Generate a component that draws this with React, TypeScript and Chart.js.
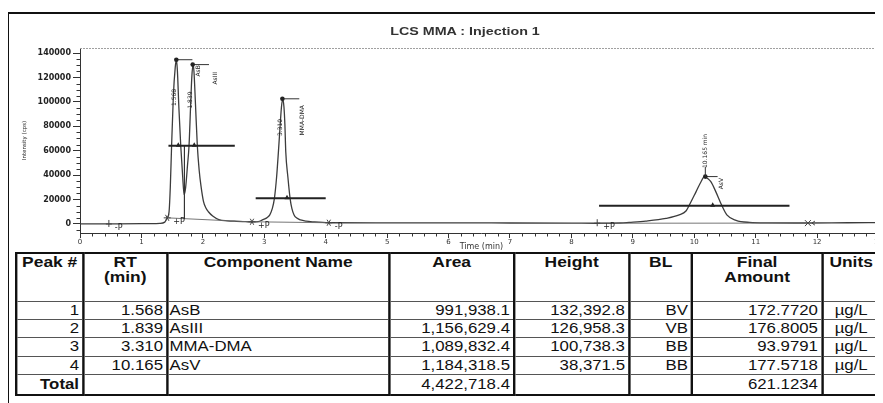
import { useEffect, useRef } from 'react';
import { Chart, registerables } from 'chart.js';

Chart.register(...registerables);

// ---- chromatogram trace ----
const timeMin = [0, 0.47, 1.0, 1.30, 1.38, 1.42, 1.45, 1.47, 1.49, 1.52, 1.55, 1.568, 1.585, 1.61, 1.64, 1.67, 1.695, 1.72, 1.75, 1.775, 1.80, 1.82, 1.839, 1.855, 1.88, 1.91, 1.94, 1.97, 2.01, 2.05, 2.09, 2.16, 2.26, 2.40, 2.55, 2.70, 2.80, 2.90, 2.97, 3.04, 3.09, 3.13, 3.165, 3.20, 3.23, 3.26, 3.28, 3.30, 3.32, 3.335, 3.35, 3.385, 3.42, 3.45, 3.485, 3.53, 3.59, 3.68, 3.80, 4.05, 5.0, 6.0, 7.0, 8.0, 8.42, 8.8, 8.94, 9.21, 9.54, 9.755, 9.865, 9.92, 10.03, 10.11, 10.165, 10.21, 10.27, 10.35, 10.445, 10.53, 10.68, 10.9, 11.2, 11.85, 12.5, 13.07];
const intensity = [0, 100, 200, 500, 1500, 5000, 10000, 30000, 62000, 105000, 128000, 134500, 126000, 95000, 64000, 40000, 24000, 30000, 48000, 64000, 96000, 120000, 130500, 125000, 98000, 64000, 44000, 31000, 18500, 13000, 10000, 6500, 3600, 2600, 2200, 1900, 1700, 1900, 3300, 5000, 7500, 12500, 21000, 38000, 59000, 82000, 96000, 102500, 96000, 82000, 59000, 38000, 21000, 12500, 7400, 4800, 3300, 2300, 1700, 1000, 900, 900, 800, 700, 600, 800, 1300, 2400, 4600, 7400, 10600, 15500, 26500, 34600, 38800, 37500, 34600, 26500, 15500, 7400, 3000, 1300, 900, 800, 1000, 1100];

// ---- axes ----
const xTickValues = Array.from({ length: 66 }, (_, i) => i / 5); // 0 … 13 min every 0.2
const yTickValues = Array.from({ length: 30 }, (_, i) => -5000 + i * 5000); // -5000 … 140000 every 5000
const xMajorStep = 1;
const yMajorStep = 20000;

// ---- peak table ----
const peakNumbers = [1, 2, 3, 4];
const peakRT = [1.568, 1.839, 3.310, 10.165];
const peakNames = ['AsB', 'AsIII', 'MMA-DMA', 'AsV'];
const peakArea = [991938.1, 1156629.4, 1089832.4, 1184318.5];
const peakHeight = [132392.8, 126958.3, 100738.3, 38371.5];
const peakBL = ['BV', 'VB', 'BB', 'BB'];
const finalAmount = [172.7720, 176.8005, 93.9791, 177.5718];
const unitLabel = 'µg/L';
const tableHeaders = ['Peak #', 'RT\n(min)', 'Component Name', 'Area', 'Height', 'BL', 'Final\nAmount', 'Units'];

// ---- peak annotations (data units) ----
const apexTime = [1.568, 1.835, 3.295, 10.18];
const apexHeight = [134500, 130500, 102500, 38800];
const leaderEnd = [1.83, 2.10, 3.57, 10.38];
const nameTime = [1.92, 2.21, 3.615, 10.435];
const nameTop = [130000, 124400, 97400, 37700];
const rtLabelTime = [1.53, 1.80, 3.27, 10.18];
const rtLabelMid = [103600, 101500, 79000, 59800];
const rtTickTop = 46700;
const halfLevel = [64000, 21000, 15000];
const halfStart = [1.44, 2.86, 8.45];
const halfEnd = [2.52, 4.0, 11.55];
const halfMarks = [[1.60, 1.86], [3.37], [10.30]];
const baseStartT = [1.42, 2.80, 8.42];
const baseStartV = [5000, 1800, 600];
const baseEndT = [2.80, 4.05, 11.85];
const baseEndV = [1700, 1000, 700];
const dropTime = [1.70];
const markTime = [0.47, 1.42, 2.80, 4.05, 8.42, 11.85];
const markValue = [0, 5000, 1800, 1000, 600, 700];
const markLabel = ['-P', '+P', '+P', '-P', '+P', ''];
const markShape = ['plus', 'star', 'star', 'star', 'plus', 'cross'];

const isMult = (v: number, step: number) => Math.abs(v / step - Math.round(v / step)) < 1e-6;

const annotate = {
  id: 'annotate',
  afterDatasetsDraw(chart: any) {
    const { ctx, chartArea: a, scales } = chart;
    const xs = scales.x, ys = scales.y;
    const X = (t: number) => xs.getPixelForValue(t);
    const Y = (v: number) => ys.getPixelForValue(v);
    const line = (x1: number, y1: number, x2: number, y2: number) => {
      ctx.beginPath(); ctx.moveTo(x1, y1); ctx.lineTo(x2, y2); ctx.stroke();
    };
    ctx.save();
    // top frame line (dashed grey)
    ctx.strokeStyle = '#a0a0a0'; ctx.lineWidth = 1; ctx.setLineDash([2, 1]);
    line(a.left, a.top + 0.5, chart.width, a.top + 0.5);
    ctx.setLineDash([]);
    // minor ticks
    ctx.strokeStyle = '#333'; ctx.lineWidth = 1;
    ys.ticks.forEach((t: any) => {
      if (!isMult(t.value, yMajorStep)) { const py = Math.round(Y(t.value)) + 0.5; line(a.left - 3.5, py, a.left, py); }
    });
    xs.ticks.forEach((t: any) => {
      if (!isMult(t.value, xMajorStep)) { const px = Math.round(X(t.value)) + 0.5; line(px, a.bottom, px, a.bottom + 3.5); }
    });
    // baselines of integration
    ctx.strokeStyle = '#666'; ctx.lineWidth = 0.9;
    baseStartT.forEach((t, i) => line(X(t), Y(baseStartV[i]), X(baseEndT[i]), Y(baseEndV[i])));
    // drop line in valley
    ctx.strokeStyle = '#333'; ctx.lineWidth = 1.2;
    dropTime.forEach((t) => line(X(t), Y(halfLevel[0]), X(t), Y(4000)));
    // half-height lines with triangles
    ctx.strokeStyle = '#222'; ctx.lineWidth = 2; ctx.fillStyle = '#222';
    halfLevel.forEach((v, i) => {
      const py = Y(v);
      line(X(halfStart[i]), py, X(halfEnd[i]), py);
      halfMarks[i].forEach((t) => {
        const px = X(t);
        ctx.beginPath(); ctx.moveTo(px, py - 3.5); ctx.lineTo(px - 2.5, py + 1); ctx.lineTo(px + 2.5, py + 1); ctx.closePath(); ctx.fill();
      });
    });
    // apex markers + leader lines
    ctx.lineWidth = 1; ctx.strokeStyle = '#333';
    apexTime.forEach((t, i) => {
      const px = X(t), py = Y(apexHeight[i]);
      line(px, py, X(leaderEnd[i]), py);
      ctx.beginPath(); ctx.arc(px, py, 2.3, 0, Math.PI * 2); ctx.fill();
    });
    // tick to peak-4 RT label
    line(X(apexTime[3]), Y(apexHeight[3]), X(apexTime[3]), Y(rtTickTop));
    // rotated texts
    ctx.fillStyle = '#222';
    ctx.font = '6px "DejaVu Sans"';
    peakNames.forEach((name, i) => {
      ctx.save(); ctx.translate(X(nameTime[i]), Y(nameTop[i])); ctx.rotate(-Math.PI / 2);
      ctx.textAlign = 'right'; ctx.textBaseline = 'middle'; ctx.fillText(name, 0, 0); ctx.restore();
    });
    peakRT.forEach((rt, i) => {
      const txt = i === 3 ? `${rt.toFixed(3)} min` : rt.toFixed(3);
      ctx.save(); ctx.translate(X(rtLabelTime[i]), Y(rtLabelMid[i])); ctx.rotate(-Math.PI / 2);
      ctx.textAlign = 'center'; ctx.textBaseline = 'middle'; ctx.fillText(txt, 0, 0); ctx.restore();
    });
    // integration markers
    ctx.strokeStyle = '#444'; ctx.lineWidth = 1;
    ctx.font = '8px "DejaVu Sans"'; ctx.textAlign = 'left'; ctx.textBaseline = 'middle';
    markTime.forEach((t, i) => {
      const px = X(t), py = Y(markValue[i]);
      const s = markShape[i];
      if (s === 'plus') { line(px - 3, py, px + 3, py); line(px, py - 4, px, py + 3); }
      if (s === 'star') {
        for (let k = 0; k < 3; k++) { const ang = (k * Math.PI) / 3; line(px - 3.5 * Math.cos(ang), py - 3.5 * Math.sin(ang), px + 3.5 * Math.cos(ang), py + 3.5 * Math.sin(ang)); }
      }
      if (s === 'cross') { line(px - 3, py - 3, px + 3, py + 3); line(px - 3, py + 3, px + 3, py - 3); line(px + 7, py - 2, px + 4, py); line(px + 4, py, px + 7, py + 2); }
      if (markLabel[i]) ctx.fillText(markLabel[i], px + 6, py + 4);
    });
    ctx.restore();
  },
};

function ChromChart() {
  const ref = useRef<HTMLCanvasElement>(null);
  useEffect(() => {
    if (!ref.current) return;
    const chart = new Chart(ref.current, {
      type: 'line',
      data: {
        datasets: [{
          data: timeMin.map((t, i) => ({ x: t, y: intensity[i] })),
          borderColor: '#3c3c3c',
          borderWidth: 1.3,
          pointRadius: 0,
          cubicInterpolationMode: 'monotone',
          fill: false,
        }],
      },
      options: {
        animation: false,
        responsive: false,
        maintainAspectRatio: false,
        layout: { padding: { top: 34, left: 0, right: 0, bottom: 0 } },
        plugins: { legend: { display: false }, tooltip: { enabled: false }, title: { display: false } },
        scales: {
          x: {
            type: 'linear', min: 0, max: 13.07,
            afterBuildTicks: (s: any) => { s.ticks = xTickValues.map((v) => ({ value: v })); },
            afterFit: (s: any) => { s.height = 19; },
            ticks: {
              autoSkip: false, maxRotation: 0, minRotation: 0, padding: 0,
              font: { family: 'DejaVu Sans', size: 7 }, color: '#333',
              callback: (v: any) => (isMult(Number(v), xMajorStep) ? String(Math.round(Number(v))) : ''),
            },
            grid: {
              drawOnChartArea: false, drawTicks: true, tickLength: 5,
              tickColor: (c: any) => (c.tick && isMult(c.tick.value, xMajorStep) ? '#333' : 'rgba(0,0,0,0)'),
            },
            border: { color: '#333', width: 1 },
            title: { display: true, text: 'Time (min)', font: { family: 'DejaVu Sans', size: 8 }, color: '#333', padding: { top: 0, bottom: 0 } },
          },
          y: {
            type: 'linear', min: -7400, max: 144100,
            afterBuildTicks: (s: any) => { s.ticks = yTickValues.map((v) => ({ value: v })); },
            afterFit: (s: any) => { s.width = 72; },
            ticks: {
              autoSkip: false, padding: 2,
              font: { family: 'DejaVu Sans', size: 8, weight: 'bold' }, color: '#222',
              callback: (v: any) => (isMult(Number(v), yMajorStep) ? String(Number(v)) : ''),
            },
            grid: {
              drawOnChartArea: false, drawTicks: true, tickLength: 7,
              tickColor: (c: any) => (c.tick && isMult(c.tick.value, yMajorStep) ? '#333' : 'rgba(0,0,0,0)'),
            },
            border: { color: '#333', width: 1 },
            title: { display: true, text: 'Intensity (cps)', font: { family: 'DejaVu Sans', size: 5.5 }, color: '#222', padding: { top: 13, bottom: 0 } },
          },
        },
      } as any,
      plugins: [annotate],
    });
    return () => chart.destroy();
  }, []);
  return <canvas ref={ref} width={875} height={238} style={{ position: 'absolute', left: 0, top: 6, width: 875, height: 238 }} />;
}

const SX = 1.2;
const colWidths = [67, 84, 222, 125, 115, 63, 130, 58].map((w) => w / SX);

const fmtArea = (v: number) => v.toLocaleString('en-US', { minimumFractionDigits: 1, maximumFractionDigits: 1 });

export default function App() {
  useEffect(() => {
    document.documentElement.style.overflow = 'hidden';
    document.body.style.overflow = 'hidden';
  }, []);
  const cell: any = {
    fontFamily: '"Liberation Sans", Arial, sans-serif', fontSize: 14, color: '#111', lineHeight: '15px',
    borderLeft: '2px solid #111', borderRight: '2px solid #111', borderTop: '1.5px solid #555', borderBottom: '1.5px solid #555',
    padding: '0 2.5px', whiteSpace: 'nowrap', overflow: 'hidden',
  };
  const head: any = { ...cell, fontWeight: 'bold', fontSize: 14.5, textAlign: 'center', verticalAlign: 'top', whiteSpace: 'pre-line', paddingTop: 1, borderTop: '2px solid #111' };
  const R: any = { ...cell, textAlign: 'right' };
  const L: any = { ...cell, textAlign: 'left', paddingLeft: 1 };
  const C: any = { ...cell, textAlign: 'center' };
  const totalArea = peakArea.reduce((s, v) => s + v, 0);
  const totalAmount = finalAmount.reduce((s, v) => s + v, 0);
  const last: any = { borderBottom: '2px solid #111' };
  return (
    <div style={{ position: 'relative', width: 875, height: 395 }}>
      <div style={{ position: 'absolute', left: -1, top: 4, width: 880, height: 395, borderLeft: '2px solid #111', borderTop: '2px solid #111' }} />
      <ChromChart />
      <div style={{ position: 'absolute', left: 457, top: 23, transform: 'translate(-50%, -50%) scaleX(1.3)', fontFamily: '"Liberation Sans", Arial, sans-serif', fontWeight: 'bold', fontSize: 11, color: '#333', whiteSpace: 'nowrap' }}>
        LCS MMA : Injection 1
      </div>
      <table style={{ position: 'absolute', left: 7, top: 244, borderCollapse: 'collapse', tableLayout: 'fixed', width: colWidths.reduce((s, w) => s + w, 0), transform: `scaleX(${SX})`, transformOrigin: '0 0', border: '2px solid #111' }}>
        <colgroup>
          {colWidths.map((w, i) => <col key={i} style={{ width: w }} />)}
        </colgroup>
        <tbody>
          <tr style={{ height: 48 }}>
            {tableHeaders.map((h, i) => <td key={i} style={head}>{h}</td>)}
          </tr>
          {peakNumbers.map((n, i) => (
            <tr key={n} style={{ height: 18.4 }}>
              <td style={R}>{n}</td>
              <td style={R}>{peakRT[i].toFixed(3)}</td>
              <td style={L}>{peakNames[i]}</td>
              <td style={R}>{fmtArea(peakArea[i])}</td>
              <td style={R}>{fmtArea(peakHeight[i])}</td>
              <td style={R}>{peakBL[i]}</td>
              <td style={R}>{finalAmount[i].toFixed(4)}</td>
              <td style={C}>{unitLabel}</td>
            </tr>
          ))}
          <tr style={{ height: 20 }}>
            <td style={{ ...R, ...last, fontWeight: 'bold' }}>Total</td>
            <td style={{ ...R, ...last }}></td>
            <td style={{ ...L, ...last }}></td>
            <td style={{ ...R, ...last }}>{fmtArea(totalArea)}</td>
            <td style={{ ...R, ...last }}></td>
            <td style={{ ...R, ...last }}></td>
            <td style={{ ...R, ...last }}>{totalAmount.toFixed(4)}</td>
            <td style={{ ...C, ...last }}></td>
          </tr>
        </tbody>
      </table>
    </div>
  );
}
